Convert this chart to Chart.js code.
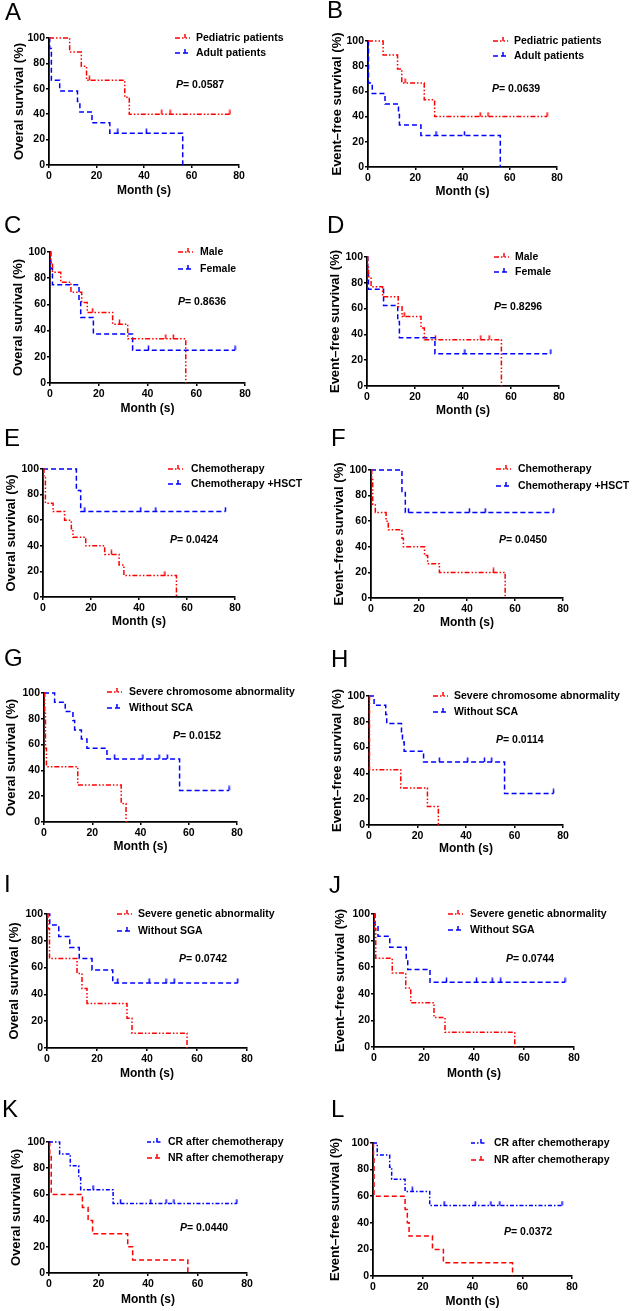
<!DOCTYPE html>
<html>
<head>
<meta charset="utf-8">
<script src="https://cdn.jsdelivr.net/npm/chart.js@4.4.1/dist/chart.umd.min.js"></script>
<style>
body { margin: 0; background: #fff; }
#page { position: relative; width: 632px; height: 1311px; overflow: hidden; }
#page canvas { position: absolute; }
.tag { position: absolute; font: 24px/24px Arial, "Liberation Sans", sans-serif; color: #000; }
</style>
</head>
<body>
<div id="page"></div>
<script>
// months (t), survival % (s) after each step, censor months (c)
const aPedT = [0, 8.7, 13.6, 15.8, 31.9, 33.8, 76.2];
const aPedS = [100, 88.9, 77.8, 66.7, 53.3, 40, 40];
const aPedC = [17, 47.5, 51, 76.2];
const aAduT = [0, 0.3, 1, 4.5, 12, 13, 18.1, 25.6, 56.3];
const aAduS = [100, 91.7, 66.7, 58.3, 50, 41.7, 33.3, 25, 0];
const aAduC = [29, 41];

const bPedT = [0, 6.4, 12.5, 14.3, 23.8, 28.2, 75.8];
const bPedS = [100, 88.9, 77.8, 66.7, 53.3, 40, 40];
const bPedC = [15.7, 47.5, 50.8, 75.8];
const bAduT = [0, 0.2, 1.8, 7.2, 12.9, 13.3, 22.4, 56];
const bAduS = [100, 66.7, 58.3, 50, 41.7, 33.3, 25, 0];
const bAduC = [28.8, 40.8];

const cMalT = [0, 0.3, 1, 4.4, 8.6, 13, 15.3, 25.7, 31.9, 55.7];
const cMalS = [100, 92.3, 84.6, 76.9, 69.2, 61.5, 53.8, 44.9, 33.7, 0];
const cMalC = [17.5, 28.5, 47.5, 50.6];
const cFemT = [0, 0.3, 1, 11.9, 12.6, 17.8, 33.9, 75.9];
const cFemS = [100, 87.5, 75, 62.5, 50, 37.5, 25, 25];
const cFemC = [40.4, 75.9];

const dMalT = [0, 0.3, 0.6, 1.7, 6.5, 13, 14.6, 22.5, 23.9, 56];
const dMalS = [100, 92.3, 84.6, 76.9, 69.2, 61.5, 53.8, 44.9, 35.9, 0];
const dMalC = [15.5, 28.5, 47.4, 50.9];
const dFemT = [0, 0.3, 0.6, 6.9, 12.8, 13.5, 28.3, 76.6];
const dFemS = [100, 87.5, 75, 62.5, 50, 37.5, 25, 25];
const dFemC = [40.8, 76.6];

const eChemT = [0, 0.4, 1, 4.2, 9, 11.8, 12.5, 17.8, 25.7, 31.7, 33.7, 55.6];
const eChemS = [100, 93.3, 73.3, 66.7, 60, 53.3, 46.7, 40, 33.3, 25, 16.7, 0];
const eChemC = [28.5, 50.8];
const eHsctT = [0, 13.9, 15.7, 76];
const eHsctS = [100, 83.3, 66.7, 66.7];
const eHsctC = [17.4, 40.7, 47, 76];

const fChemT = [0, 0.3, 0.7, 1.8, 6.3, 7.2, 12.9, 13.5, 22.3, 23.6, 28.5, 55.9];
const fChemS = [100, 93.3, 73.3, 66.7, 60, 53.3, 46.7, 40, 33.3, 26.7, 20, 0];
const fChemC = [51];
const fHsctT = [0, 12.9, 14.3, 76.1];
const fHsctS = [100, 83.3, 66.7, 66.7];
const fHsctC = [15.6, 41, 47.6, 76.1];

const gScaT = [0, 0.3, 0.6, 1, 14, 32, 34];
const gScaS = [100, 85.7, 57.1, 42.9, 28.6, 14.3, 0];
const gScaC = [];
const gNoT = [0, 4.4, 8.8, 12, 12.7, 15.5, 17.8, 26.1, 56.2, 76.7];
const gNoS = [100, 92.9, 85.7, 78.6, 71.4, 64.3, 57.1, 48.9, 24.5, 24.5];
const gNoC = [29.3, 41, 47.7, 51.1, 76.7];

const hScaT = [0, 0.2, 13.1, 24.1, 28.6];
const hScaS = [100, 42.9, 28.6, 14.3, 0];
const hScaC = [];
const hNoT = [0, 2.1, 6.9, 7.3, 13.4, 13.8, 14.5, 22.5, 55.9, 76.1];
const hNoS = [100, 92.9, 85.7, 78.6, 71.4, 64.3, 57.1, 48.9, 24.5, 24.5];
const hNoC = [29, 40.7, 47.6, 50.6, 76.1];

const iSgaT = [0, 0.4, 1, 12, 14, 16, 32, 34, 56];
const iSgaS = [100, 88.9, 66.7, 55.6, 44.4, 33.3, 22.2, 11.1, 0];
const iSgaC = [];
const iNoT = [0, 1.1, 4.7, 9.1, 12.9, 18, 26.3, 76.3];
const iNoS = [100, 91.7, 83.3, 75, 66.7, 58.3, 48.6, 48.6];
const iNoC = [28.3, 40.9, 47.6, 50.9, 76.3];

const jSgaT = [0, 0.3, 0.7, 7.3, 12.7, 14.7, 24, 28.4, 56.3];
const jSgaS = [100, 88.9, 66.7, 55.6, 44.4, 33.3, 22.2, 11.1, 0];
const jSgaC = [];
const jNoT = [0, 0.4, 1.6, 6.3, 12.9, 13.5, 22.4, 76.4];
const jNoS = [100, 91.7, 83.3, 75, 66.7, 58.3, 48.6, 48.6];
const jNoC = [29, 41, 47.3, 50.7, 76.4];

const kCrT = [0, 4.3, 8.6, 12, 12.8, 25.9, 75.9];
const kCrS = [100, 90.9, 81.8, 72.7, 63.6, 53, 53];
const kCrC = [17.8, 28.9, 41.1, 47.3, 50.5, 75.9];
const kNrT = [0, 0.3, 0.9, 13.5, 15.8, 17.6, 31.8, 33.8, 56.1];
const kNrS = [100, 90, 60, 50, 40, 30, 20, 10, 0];
const kNrC = [];

const lCrT = [0, 1.7, 6.7, 7.5, 12.9, 22.8, 76];
const lCrS = [100, 90.9, 81.8, 72.7, 63.6, 53, 53];
const lCrC = [15.8, 28.6, 41.1, 47.4, 51, 76];
const lNrT = [0, 0.2, 0.4, 12.9, 13.8, 14.5, 23.9, 28.3, 56.1];
const lNrS = [100, 90, 60, 50, 40, 30, 20, 10, 0];
const lNrC = [];

const xTicks = [0, 20, 40, 60, 80];
const yTicks = [0, 20, 40, 60, 80, 100];
const pValues = ['0.0587', '0.0639', '0.8636', '0.8296', '0.0424', '0.0450',
                 '0.0152', '0.0114', '0.0742', '0.0744', '0.0440', '0.0372'];

const RED = '#ff0000';
const BLUE = '#0000ff';
const DASH_DOT2 = [5, 2, 1.5, 2, 1.5, 2];
const DASH_DOT = [4, 2, 1.5, 2];
const DASHED = [5, 3];
const FONT = 'Arial, "Liberation Sans", sans-serif';
const OS = 'Overal survival (%)';
const EFS = 'Event\u2013free survival (%)';

function curve(label, t, s, c, color, dash) {
    return { label, t, s, c, color, dash };
}

// panel layout: page position, plot area [l, t, r, b], title centres, legend + P position
const panels = [
    { tag: 'A', x: 0, y: 0, h: 218, area: [49, 38, 239, 165], ytx: 19, xty: 191, yTitle: OS,
      sx: 175, tx: 196, ly: [38, 53], px: 176, py: 85,
      curves: [curve('Pediatric patients', aPedT, aPedS, aPedC, RED, DASH_DOT2),
               curve('Adult patients', aAduT, aAduS, aAduC, BLUE, DASHED)] },
    { tag: 'B', x: 316, y: 0, h: 218, area: [52, 41, 241, 167], ytx: 21, xty: 192, yTitle: EFS,
      sx: 177, tx: 198, ly: [41, 56], px: 176, py: 89,
      curves: [curve('Pediatric patients', bPedT, bPedS, bPedC, RED, DASH_DOT2),
               curve('Adult patients', bAduT, bAduS, bAduC, BLUE, DASHED)] },
    { tag: 'C', x: 0, y: 218, h: 218, area: [50, 34, 245, 165], ytx: 18, xty: 191, yTitle: OS,
      sx: 178, tx: 200, ly: [34, 51], px: 178, py: 84,
      curves: [curve('Male', cMalT, cMalS, cMalC, RED, DASH_DOT2),
               curve('Female', cFemT, cFemS, cFemC, BLUE, DASHED)] },
    { tag: 'D', x: 316, y: 218, h: 218, area: [51, 39, 243, 168], ytx: 19, xty: 193, yTitle: EFS,
      sx: 178, tx: 199, ly: [39, 54], px: 178, py: 89,
      curves: [curve('Male', dMalT, dMalS, dMalC, RED, DASH_DOT2),
               curve('Female', dFemT, dFemS, dFemC, BLUE, DASHED)] },
    { tag: 'E', x: 0, y: 436, h: 218, area: [43, 33, 235, 161], ytx: 11, xty: 186, yTitle: OS,
      sx: 168, tx: 191, ly: [33, 48], px: 170, py: 104,
      curves: [curve('Chemotherapy', eChemT, eChemS, eChemC, RED, DASH_DOT2),
               curve('Chemotherapy +HSCT', eHsctT, eHsctS, eHsctC, BLUE, DASHED)] },
    { tag: 'F', x: 316, y: 436, h: 218, area: [55, 34, 247, 162], ytx: 23, xty: 187, yTitle: EFS,
      sx: 180, tx: 202, ly: [33, 50], px: 183, py: 104,
      curves: [curve('Chemotherapy', fChemT, fChemS, fChemC, RED, DASH_DOT2),
               curve('Chemotherapy +HSCT', fHsctT, fHsctS, fHsctC, BLUE, DASHED)] },
    { tag: 'G', x: 0, y: 654, h: 218, area: [44, 39, 237, 168], ytx: 11, xty: 193, yTitle: OS,
      sx: 107, tx: 129, ly: [38, 54], px: 173, py: 82,
      curves: [curve('Severe chromosome abnormality', gScaT, gScaS, gScaC, RED, DASH_DOT2),
               curve('Without SCA', gNoT, gNoS, gNoC, BLUE, DASHED)] },
    { tag: 'H', x: 316, y: 654, h: 218, area: [53, 42, 247, 171], ytx: 21, xty: 195, yTitle: EFS,
      sx: 117, tx: 138, ly: [42, 58], px: 180, py: 86,
      curves: [curve('Severe chromosome abnormality', hScaT, hScaS, hScaC, RED, DASH_DOT2),
               curve('Without SCA', hNoT, hNoS, hNoC, BLUE, DASHED)] },
    { tag: 'I', x: 0, y: 872, h: 218, area: [47, 42, 247, 176], ytx: 14, xty: 202, yTitle: OS,
      sx: 117, tx: 138, ly: [42, 59], px: 179, py: 87,
      curves: [curve('Severe genetic abnormality', iSgaT, iSgaS, iSgaC, RED, DASH_DOT2),
               curve('Without SGA', iNoT, iNoS, iNoC, BLUE, DASHED)] },
    { tag: 'J', x: 316, y: 872, h: 218, area: [58, 42, 258, 175], ytx: 24, xty: 202, yTitle: EFS,
      sx: 132, tx: 154, ly: [42, 58], px: 190, py: 87,
      curves: [curve('Severe genetic abnormality', jSgaT, jSgaS, jSgaC, RED, DASH_DOT2),
               curve('Without SGA', jNoT, jNoS, jNoC, BLUE, DASHED)] },
    { tag: 'K', x: 0, y: 1090, h: 221, area: [49, 52, 247, 183], ytx: 16, xty: 210, yTitle: OS,
      sx: 147, tx: 168, ly: [52, 68], px: 180, py: 138,
      curves: [curve('CR after chemotherapy', kCrT, kCrS, kCrC, BLUE, DASH_DOT),
               curve('NR after chemotherapy', kNrT, kNrS, kNrC, RED, DASHED)] },
    { tag: 'L', x: 316, y: 1090, h: 221, area: [57, 53, 256, 186], ytx: 19, xty: 212, yTitle: EFS,
      sx: 155, tx: 178, ly: [53, 70], px: 188, py: 142,
      curves: [curve('CR after chemotherapy', lCrT, lCrS, lCrC, BLUE, DASH_DOT),
               curve('NR after chemotherapy', lNrT, lNrS, lNrC, RED, DASHED)] }
];

// panel letters: [left, baseline]
const tagPos = { A: [5, 20], B: [327, 18], C: [4, 233], D: [327, 233], E: [4, 446], F: [331, 446],
                 G: [4, 666], H: [331, 667], I: [4, 892], J: [329, 893], K: [2, 1117], L: [331, 1117] };

const page = document.getElementById('page');

function survAt(cu, month) {
    let v = cu.s[0];
    for (let i = 0; i < cu.t.length; i++) {
        if (cu.t[i] <= month) v = cu.s[i];
    }
    return v;
}

// small upward tick used for censored patients
function tickMark(color) {
    const c = document.createElement('canvas');
    c.width = 3; c.height = 10;
    const g = c.getContext('2d');
    g.strokeStyle = color;
    g.lineWidth = 1.5;
    g.beginPath(); g.moveTo(1.5, 0.5); g.lineTo(1.5, 5); g.stroke();
    return c;
}

const kmText = {
    id: 'kmText',
    afterDraw(chart, args, o) {
        const ctx = chart.ctx;
        ctx.save();
        ctx.textBaseline = 'middle';
        ctx.textAlign = 'left';
        ctx.fillStyle = '#000';
        o.rows.forEach((row, i) => {
            const y = o.ly[i];
            ctx.strokeStyle = row.color;
            ctx.lineWidth = 1.5;
            ctx.setLineDash(row.dash);
            ctx.beginPath(); ctx.moveTo(o.sx, y); ctx.lineTo(o.sx + 15, y); ctx.stroke();
            ctx.setLineDash([]);
            ctx.beginPath(); ctx.moveTo(o.sx + 10, y); ctx.lineTo(o.sx + 10, y - 4); ctx.stroke();
            ctx.font = 'bold 10.5px ' + FONT;
            ctx.fillText(row.label, o.tx, y);
        });
        ctx.font = 'italic bold 10.5px ' + FONT;
        ctx.fillText('P', o.px, o.py);
        const w = ctx.measureText('P').width;
        ctx.font = 'bold 10.5px ' + FONT;
        ctx.fillText('= ' + o.p, o.px + w, o.py);
        ctx.restore();
    }
};

const Y_TITLE = 13, X_TITLE = 12;

panels.forEach((p, idx) => {
    const cv = document.createElement('canvas');
    cv.width = 316; cv.height = p.h;
    cv.style.left = p.x + 'px';
    cv.style.top = p.y + 'px';
    page.appendChild(cv);

    const [l, t, r, b] = p.area;
    const padLeft = p.ytx - Y_TITLE * 0.6;
    const padBottom = p.h - p.xty - X_TITLE * 0.6;

    const datasets = [];
    p.curves.forEach(cu => {
        datasets.push({
            label: cu.label,
            data: cu.t.map((x, i) => ({ x: x, y: cu.s[i] })),
            borderColor: cu.color, borderWidth: 1.5, borderDash: cu.dash,
            stepped: 'before', pointRadius: 0, fill: false, clip: 6
        });
    });
    p.curves.forEach(cu => {
        datasets.push({
            label: cu.label + ' censored',
            data: cu.c.map(x => ({ x: x, y: survAt(cu, x) })),
            showLine: false, pointStyle: tickMark(cu.color), pointRadius: 5, clip: 6
        });
    });

    const tickFont = { family: FONT, size: 10.5, weight: 'bold' };

    new Chart(cv, {
        type: 'line',
        data: { datasets: datasets },
        options: {
            responsive: false,
            animation: false,
            events: [],
            layout: { padding: { left: padLeft, top: t, right: 316 - r, bottom: padBottom } },
            plugins: {
                legend: { display: false },
                tooltip: { enabled: false },
                kmText: {
                    rows: p.curves.map(cu => ({ label: cu.label, color: cu.color, dash: cu.dash })),
                    sx: p.sx, tx: p.tx, ly: p.ly, px: p.px, py: p.py, p: pValues[idx]
                }
            },
            scales: {
                x: {
                    type: 'linear', min: 0, max: 80,
                    afterFit: s => { s.height = p.h - padBottom - b; },
                    afterBuildTicks: s => { s.ticks = xTicks.map(v => ({ value: v })); },
                    border: { color: '#000', width: 1.8 },
                    grid: { drawOnChartArea: false, drawTicks: true, tickLength: 3, color: '#000', lineWidth: 1.5 },
                    ticks: { color: '#000', font: tickFont, padding: 2, maxRotation: 0 },
                    title: { display: true, text: 'Month (s)', color: '#000', padding: 0,
                             font: { family: FONT, size: X_TITLE, weight: 'bold' } }
                },
                y: {
                    min: 0, max: 100,
                    afterFit: s => { s.width = l - padLeft; },
                    afterBuildTicks: s => { s.ticks = yTicks.map(v => ({ value: v })); },
                    border: { color: '#000', width: 1.8 },
                    grid: { drawOnChartArea: false, drawTicks: true, tickLength: 3, color: '#000', lineWidth: 1.5 },
                    ticks: { color: '#000', font: tickFont, padding: 1 },
                    title: { display: true, text: p.yTitle, color: '#000', padding: 0,
                             font: { family: FONT, size: Y_TITLE, weight: 'bold' } }
                }
            }
        },
        plugins: [kmText]
    });

    const d = document.createElement('div');
    d.className = 'tag';
    d.textContent = p.tag;
    d.style.left = tagPos[p.tag][0] + 'px';
    d.style.top = (tagPos[p.tag][1] - 20.3) + 'px';
    page.appendChild(d);
});
</script>
</body>
</html>
